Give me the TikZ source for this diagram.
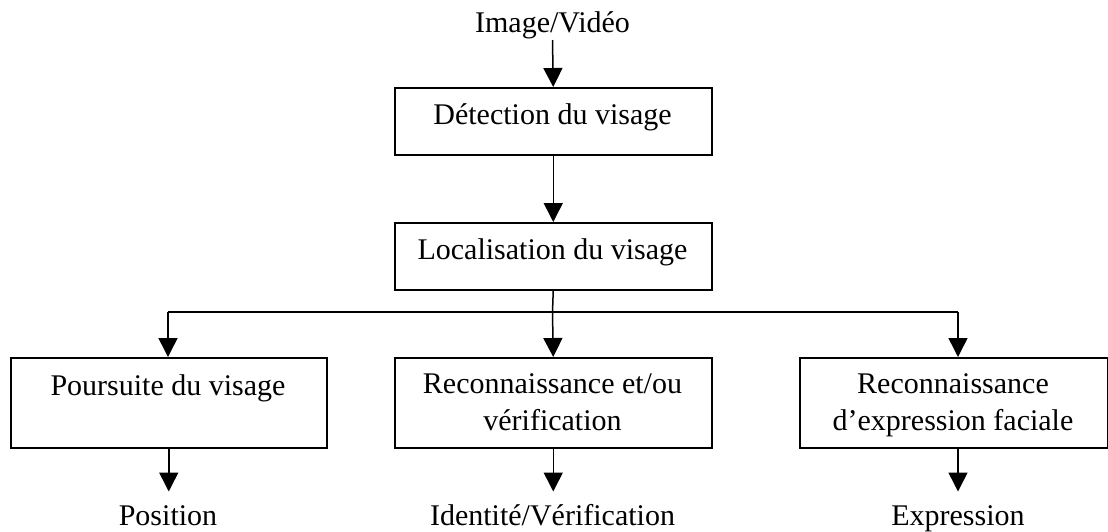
\documentclass[tikz,border=0pt]{standalone}
\usepackage{fontspec}
\setmainfont{Liberation Serif}
\usetikzlibrary{arrows.meta}
\begin{document}
\begin{tikzpicture}[x=1pt,y=-1pt,
  every node/.style={font=\fontsize{30}{37}\selectfont, inner sep=0pt},
  box/.style={draw, line width=1.5pt, anchor=north west},
  lbl/.style={anchor=base, align=center},
  conn/.style={line width=1.5pt, -{Triangle[length=19pt,width=19pt]}},
  plain/.style={line width=1.5pt}]
\useasboundingbox (0,0) rectangle (1108,531);
% boxes
\node[box, minimum width=317pt, minimum height=67pt] (det) at (394,87) {};
\node[box, minimum width=317pt, minimum height=67pt] (loc) at (394,222) {};
\node[box, minimum width=316pt, minimum height=90pt] (pour) at (10,357) {};
\node[box, minimum width=317pt, minimum height=90pt] (reco) at (394,357) {};
\node[box, minimum width=308pt, minimum height=90pt] (expr) at (799,357) {};
% texts
\node[lbl] (img) at (552.5,32) {Image/Vidéo};
\node[lbl] (tdet) at (552.5,124) {Détection du visage};
\node[lbl] (tloc) at (552.5,259) {Localisation du visage};
\node[lbl] (tpour) at (168,395) {Poursuite du visage};
\node[lbl] (treco1) at (552.5,393) {Reconnaissance et/ou};
\node[lbl] (treco2) at (552.5,430) {vérification};
\node[lbl] (texpr1) at (953,393) {Reconnaissance};
\node[lbl] (texpr2) at (953,430) {d’expression faciale};
\node[lbl] (opos) at (168,525) {Position};
\node[lbl] (oid) at (552.5,525) {Identité/Vérification};
\node[lbl] (oexp) at (958,525) {Expression};
% coordinates
\coordinate (imgend) at (552.5,40);
\coordinate (split) at (552.5,312);
\coordinate (lsplit) at (168,312);
\coordinate (rsplit) at (958,312);
% connectors
\draw[conn] (imgend) -- (det.north);
\draw[conn] (det.south) -- (loc.north);
\draw[plain] (loc.south) -- (split);
\draw[plain] (lsplit) -- (rsplit);
\draw[conn] (lsplit) -- (lsplit |- pour.north);
\draw[conn] (split) -- (reco.north);
\draw[conn] (rsplit) -- (rsplit |- expr.north);
\draw[conn] (pour.south) -- ++(0,43);
\draw[conn] (reco.south) -- ++(0,43);
\draw[conn] (rsplit |- expr.south) -- ++(0,43);
\end{tikzpicture}
\end{document}
